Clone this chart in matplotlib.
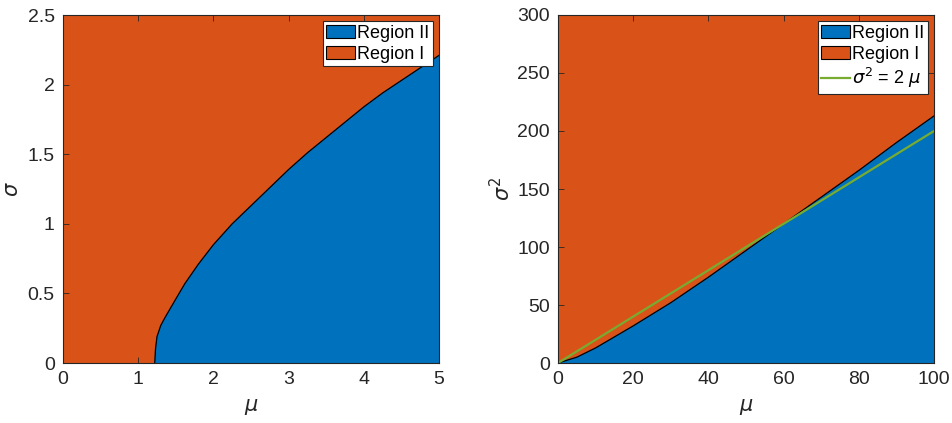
import matplotlib
matplotlib.use('Agg')
import matplotlib.pyplot as plt

plt.rcParams['font.family'] = ['Liberation Sans', 'DejaVu Sans']
plt.rcParams['mathtext.fontset'] = 'dejavusans'

# boundary between regions, left panel (mu vs sigma)
mu_left = [1.22, 1.23, 1.25, 1.30, 1.36, 1.5, 1.62, 1.8, 2.0, 2.25, 2.5, 2.75,
           3.0, 3.25, 3.5, 3.75, 4.0, 4.25, 4.5, 4.75, 5.0]
sigma_left = [0, 0.10, 0.19, 0.27, 0.33, 0.46, 0.57, 0.71, 0.85, 1.00, 1.13, 1.26,
              1.39, 1.51, 1.62, 1.73, 1.84, 1.94, 2.03, 2.12, 2.21]

# boundary, right panel (mu vs sigma^2)
mu_right = [0, 5, 10, 20, 30, 40, 50, 60, 70, 80, 90, 100]
sig2_right = [0, 5, 13, 32, 52, 74, 97, 120, 143, 166, 190, 213]

# reference line sigma^2 = 2 mu
mu_line = [0, 100]
sig2_line = [2 * m for m in mu_line]

blue = '#0072BD'
orange = '#D95319'
green = '#77AC30'
dark = '#262626'

fig = plt.figure(figsize=(9.52, 4.23), dpi=100)
ax1 = fig.add_axes([63 / 952, 60 / 423, 376 / 952, 348 / 423])
ax2 = fig.add_axes([558 / 952, 60 / 423, 376 / 952, 348 / 423])


def style(ax):
    ax.tick_params(direction='in', length=4, width=0.6, colors=dark,
                   labelsize=14, top=True, right=True, pad=6)
    for s in ax.spines.values():
        s.set_linewidth(0.8)
        s.set_color(dark)
        s.set_zorder(5)


def legend(ax, order):
    h, l = ax.get_legend_handles_labels()
    leg = ax.legend([h[i] for i in order], [l[i] for i in order],
                    loc='upper right', fontsize=13, fancybox=False,
                    framealpha=1, edgecolor=dark, borderaxespad=0.35,
                    handlelength=1.6, handletextpad=0.1, borderpad=0.2,
                    labelspacing=0.2)
    leg.get_frame().set_linewidth(0.8)
    for p in leg.get_patches():
        p.set_edgecolor('black')
        p.set_linewidth(0.8)


# left panel
ax1.fill_between([0, 5], 0, 2.5, color=orange, label='Region I', zorder=1)
ax1.fill_between(mu_left, 0, sigma_left, color=blue, label='Region II', zorder=2)
ax1.plot(mu_left, sigma_left, color='black', lw=0.9, zorder=3)
ax1.set_xlim(0, 5)
ax1.set_ylim(0, 2.5)
ax1.set_xticks([0, 1, 2, 3, 4, 5])
ax1.set_yticks([0, 0.5, 1, 1.5, 2, 2.5])
ax1.set_yticklabels(['0', '0.5', '1', '1.5', '2', '2.5'])
ax1.set_xlabel(r'$\mu$', fontsize=15, color=dark, labelpad=6)
ax1.set_ylabel(r'$\sigma$', fontsize=15, color=dark)
style(ax1)
legend(ax1, [1, 0])

# right panel
ax2.fill_between([0, 100], 0, 300, color=orange, label='Region I', zorder=1)
ax2.fill_between(mu_right, 0, sig2_right, color=blue, label='Region II', zorder=2)
ax2.plot(mu_right, sig2_right, color='black', lw=0.9, zorder=3)
ax2.plot(mu_line, sig2_line, color=green, lw=1.6, zorder=4,
         label=r'$\sigma^2$ = 2 $\mu$')
ax2.set_xlim(0, 100)
ax2.set_ylim(0, 300)
ax2.set_xticks(range(0, 101, 20))
ax2.set_yticks(range(0, 301, 50))
ax2.set_xlabel(r'$\mu$', fontsize=15, color=dark, labelpad=6)
ax2.set_ylabel(r'$\sigma^2$', fontsize=15, color=dark, labelpad=2)
style(ax2)
legend(ax2, [1, 0, 2])

fig.savefig('out.png', dpi=100)
